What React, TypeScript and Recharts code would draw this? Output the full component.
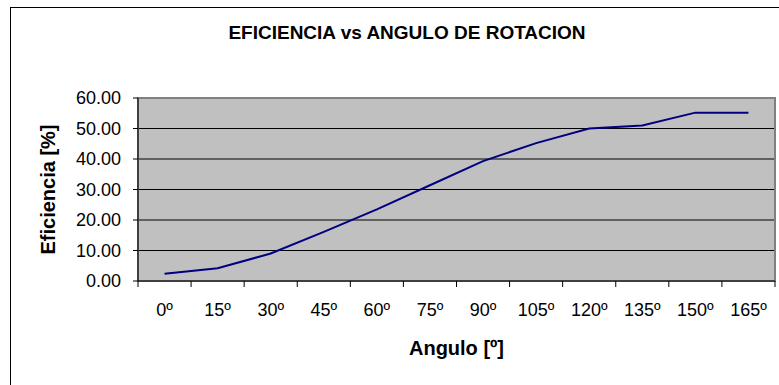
import {
  LineChart,
  Line,
  XAxis,
  YAxis,
  CartesianGrid,
  ReferenceArea,
  Label,
} from 'recharts';

const angles = ['0º', '15º', '30º', '45º', '60º', '75º', '90º', '105º', '120º', '135º', '150º', '165º'];
const eficiencia = [2.4, 4.2, 9.0, 16.1, 23.5, 31.4, 39.3, 45.2, 50.0, 51.0, 55.2, 55.2];
const yTicks = [0, 10, 20, 30, 40, 50, 60];

// boundaries between categories (where Excel puts the tick marks)
const boundaryTicks = angles.map((_, i) => i - 0.5).concat(angles.length - 0.5);
const centerTicks = angles.map((_, i) => i);

const data = angles.map((a, i) => ({ idx: i, angulo: a, eficiencia: eficiencia[i] }));

const font = '"Liberation Sans", Arial, sans-serif';
const domain: [number, number] = [-0.5, angles.length - 0.5];

export default function App() {
  return (
    <div style={{ position: 'absolute', left: 0, top: 0, width: 779, height: 385, background: '#fff', overflow: 'hidden', fontFamily: font }}>
      {/* chart frame, cut off at right and bottom */}
      <div
        style={{
          position: 'absolute',
          left: 10,
          top: 7,
          width: 800,
          height: 400,
          borderLeft: '1px solid #000',
          borderTop: '1px solid #000',
        }}
      />
      <div
        style={{
          position: 'absolute',
          left: 407,
          top: 33,
          transform: 'translate(-50%, -50%)',
          fontWeight: 'bold',
          fontSize: 19,
          whiteSpace: 'nowrap',
          color: '#000',
        }}
      >
        EFICIENCIA vs ANGULO DE ROTACION
      </div>
      <div style={{ position: 'absolute', left: 0, top: 0 }}>
        <LineChart
          width={779}
          height={385}
          data={data}
          margin={{ top: 98, right: 4, bottom: 0, left: 0 }}
        >
          <CartesianGrid
            vertical={false}
            stroke="#000"
            fill="#C0C0C0"
            fillOpacity={1}
            xAxisId="xa"
          />
          <XAxis
            xAxisId="xa"
            type="number"
            dataKey="idx"
            domain={domain}
            ticks={boundaryTicks}
            interval={0}
            tickFormatter={() => ''}
            tickSize={6}
            height={6}
            axisLine={{ stroke: '#000' }}
            tickLine={{ stroke: '#000' }}
          />
          <XAxis
            xAxisId="xb"
            type="number"
            dataKey="idx"
            domain={domain}
            ticks={centerTicks}
            interval={0}
            tickFormatter={(v: number) => angles[v]}
            axisLine={false}
            tickLine={false}
            tickSize={0}
            tickMargin={16}
            height={98}
            tick={{ fill: '#000', fontSize: 18, fontFamily: font }}
          >
            <Label
              value="Angulo [º]"
              position="insideBottom"
              offset={30}
              style={{ fontWeight: 'bold', fontSize: 20, fill: '#000', fontFamily: font }}
            />
          </XAxis>
          <YAxis
            domain={[0, 60]}
            ticks={yTicks}
            interval={0}
            width={138}
            tickSize={5}
            tickMargin={12}
            tickFormatter={(v: number) => v.toFixed(2)}
            axisLine={{ stroke: '#000' }}
            tickLine={{ stroke: '#000' }}
            tick={{ fill: '#000', fontSize: 18, fontFamily: font }}
          >
            <Label
              value="Eficiencia [%]"
              angle={-90}
              position="insideLeft"
              offset={48}
              style={{ textAnchor: 'middle', fontWeight: 'bold', fontSize: 20, fill: '#000', fontFamily: font }}
            />
          </YAxis>
          <ReferenceArea
            xAxisId="xa"
            x1={domain[0]}
            x2={domain[1]}
            y1={0}
            y2={60}
            fill="none"
            stroke="#808080"
            strokeWidth={2}
            ifOverflow="visible"
          />
          <Line
            xAxisId="xb"
            type="linear"
            dataKey="eficiencia"
            stroke="#000080"
            strokeWidth={2}
            dot={false}
            isAnimationActive={false}
          />
        </LineChart>
      </div>
    </div>
  );
}
